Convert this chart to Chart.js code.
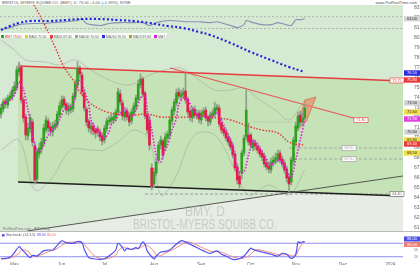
<!DOCTYPE html>
<html><head><meta charset="utf-8">
<script src="https://cdn.jsdelivr.net/npm/chart.js@4.4.1/dist/chart.umd.min.js"></script>
<style>
html,body{margin:0;padding:0;background:#fff;}
body{width:420px;height:265px;position:relative;overflow:hidden;font-family:"Liberation Sans",Arial,sans-serif;}
#hdr{position:absolute;left:2px;top:0;font-size:4px;line-height:5px;color:#555;white-space:nowrap;}
#site{position:absolute;right:3px;top:0;font-size:4px;line-height:5px;color:#555;white-space:nowrap;}
#main{position:absolute;left:0;top:5px;}
#stoch{position:absolute;left:0;top:231px;}
#legend{position:absolute;left:0;top:33px;height:5px;width:167px;background:rgba(255,255,255,0.85);font-size:3.3px;line-height:5px;white-space:nowrap;color:#666;z-index:5;overflow:hidden}
#legend span{display:inline-block;margin-right:2.4px}
#legend i{display:inline-block;width:3px;height:3px;margin:0 1px 0 1px;vertical-align:-0.3px}
</style></head>
<body>
<div id="hdr">BRISTOL-MYERS SQUIBB CO. (BMY), D, 73.00 +1.00 (+1.39%), NYSE</div>
<div id="site">www.ProRealTime.com</div>
<canvas id="main" width="420" height="226"></canvas>
<div id="legend">
<span><i style="background:#2fa31f"></i><b style="color:#d33;font-weight:normal">BMY 73.00</b></span><span><i style="background:#e0d020"></i>MA20 72.60</span><span><i style="background:#e83a3a"></i>MA50 69.40</span><span><i style="background:#a0a0a0"></i>MA100 70.60</span><span><i style="background:#2a2ae0"></i>MA200 76.50</span><span><i style="background:#b0a020"></i>MA13 69.80</span><span><i style="background:#e020e0"></i>MA7 71.90</span><span><i style="background:#fff;border:0.3px solid #999"></i>Bollinger 20 2</span>
</div>
<canvas id="stoch" width="420" height="34"></canvas>
<script>
// ---------------- DATA ----------------
const opens = [
72.4,72.9,73.7,73.3,73.9,74.1,74.7,75.0,76.6,77.1,
73.8,72.1,70.2,70.9,71.6,69.2,65.9,68.4,68.9,69.5,
70.8,71.7,71.1,70.6,71.1,71.3,72.3,73.1,73.9,73.4,
72.7,72.8,72.9,74.1,75.3,77.0,76.3,74.5,72.9,71.7,
70.9,71.2,70.8,70.9,70.6,70.2,69.8,70.9,71.6,71.7,
71.8,72.0,72.6,74.4,73.5,72.1,72.7,72.2,71.7,72.5,
73.1,73.9,75.3,75.9,74.5,72.3,71.8,67.0,65.4,66.5,
67.8,69.3,69.7,69.1,70.0,70.3,71.7,72.7,73.5,74.6,
74.1,74.3,74.7,73.9,72.7,72.0,72.9,72.2,72.5,71.8,
72.4,72.8,72.1,71.6,72.2,72.4,72.8,73.0,71.5,70.9,
70.6,70.1,69.7,69.2,68.4,67.1,66.2,66.5,68.5,70.1,
70.3,70.3,69.0,69.5,69.2,68.9,68.5,68.2,67.5,67.2,
66.8,67.5,67.7,67.9,68.5,67.9,67.5,66.9,66.1,65.6,
67.7,69.6,71.0,72.3,71.6,72.0];
const closes = [
73.0,73.6,73.4,74.0,74.2,74.8,75.2,76.8,77.0,73.8,
72.0,70.3,71.0,72.0,69.6,65.8,68.6,69.0,69.6,71.0,
71.8,71.0,70.7,71.2,71.4,72.4,73.2,73.8,73.3,72.8,
73.2,73.0,74.2,75.4,77.0,76.4,74.6,73.0,71.6,71.0,
71.2,70.7,70.5,70.6,70.1,69.7,71.0,71.7,71.8,72.0,
72.1,72.6,74.6,73.6,72.2,72.6,72.1,71.6,72.6,73.2,
74.0,75.4,75.9,74.4,72.2,70.8,69.3,65.2,66.6,67.6,
69.3,69.8,68.3,70.1,70.4,71.8,72.8,73.6,74.5,74.2,
74.4,74.6,73.8,72.6,72.1,72.8,72.3,72.4,71.9,72.5,
72.7,72.0,71.7,72.3,72.5,73.0,73.1,71.4,70.8,70.5,
70.0,69.6,69.1,68.3,67.0,65.8,65.4,68.5,70.0,72.8,
69.6,69.3,69.6,69.2,68.8,68.4,68.1,67.4,67.1,66.9,
67.6,67.8,68.0,68.4,67.8,67.4,66.8,66.0,65.4,67.8,
69.8,71.2,72.2,71.6,72.0,73.0];
const highs = [
73.3,73.9,74.0,74.3,74.6,75.1,75.6,77.2,77.6,77.3,
74.1,72.4,71.5,72.4,71.9,69.5,68.9,69.5,70.0,71.4,
72.2,72.0,71.5,71.6,71.8,72.7,73.6,74.2,74.2,73.6,
73.5,73.4,74.5,75.8,77.6,77.2,76.6,74.8,73.1,71.9,
71.6,71.5,71.0,71.2,70.9,70.5,71.3,72.0,72.2,72.4,
72.5,72.9,75.0,74.8,73.8,72.9,73.0,72.5,72.9,73.5,
74.3,75.8,76.4,76.1,74.7,72.5,72.2,67.4,67.0,68.0,
69.6,70.2,69.9,70.5,70.7,72.1,73.1,73.9,74.9,75.0,
74.8,75.0,76.5,74.1,73.0,73.1,73.2,72.8,72.8,72.8,
73.0,73.1,72.3,72.6,72.8,73.6,73.4,73.3,71.9,71.2,
70.9,70.4,70.0,69.5,68.7,67.4,66.6,68.8,70.3,74.8,
71.5,70.5,69.9,69.8,69.5,69.2,68.8,68.5,67.8,67.5,
68.0,68.2,68.5,68.8,68.8,68.2,67.8,67.2,66.4,68.1,
70.1,71.6,72.6,72.7,72.5,73.4];
const lows = [
72.0,72.6,73.0,73.0,73.7,73.8,74.4,74.8,76.2,73.5,
71.6,69.8,69.8,70.5,69.2,65.4,65.6,68.0,68.5,69.2,
70.5,70.6,70.2,70.2,70.8,71.0,72.0,72.8,73.0,72.4,
72.3,72.5,72.6,73.8,75.0,76.0,74.3,72.7,71.2,70.6,
70.4,70.3,70.0,70.2,69.7,69.3,69.5,70.6,71.3,71.4,
71.5,71.7,72.3,73.3,71.8,71.7,71.8,71.2,71.4,72.2,
72.8,73.6,75.0,74.1,71.9,70.4,68.8,64.8,65.0,66.2,
67.5,68.9,67.9,68.7,69.6,70.0,71.3,72.3,73.2,73.9,
73.8,74.0,73.5,72.3,71.7,71.6,72.0,71.9,71.5,71.4,
72.1,71.7,71.2,71.3,71.9,72.1,72.5,71.1,70.5,70.2,
69.7,69.3,68.8,68.0,66.7,65.4,65.0,65.9,68.2,69.8,
69.3,69.0,68.7,68.8,68.5,68.1,67.7,67.1,66.8,66.5,
66.5,67.2,67.4,67.6,67.5,67.1,66.5,65.6,64.6,65.3,
67.3,69.2,70.7,71.2,71.3,71.8];

// moving averages / overlays (trading-day index, price)
const ma200Days = [0,4,8,13,22,29,36,44,52,59,66,74,81,88,93,102,111,120,128,135];
const ma200Vals = [80.8,81.2,81.5,81.7,81.7,81.8,81.9,81.9,81.8,81.7,81.5,81.2,81.0,80.6,80.3,79.5,78.6,77.8,77.1,76.6];
const ma50Days = [14,19,24,28,32,35,39,43,47,52,59,65,71,76,83,88,93,102,111,116,123,128,133,135];
const ma50Vals = [83.6,81.5,79.1,77.1,75.8,74.6,73.6,73.0,72.6,72.4,72.3,72.4,72.1,72.1,72.1,72.3,72.1,71.8,71.1,70.8,70.5,69.6,69.3,69.4];
const ma7Days = [0,4,6,8,10,12,14,16,17,19,21,23,24,26,28,30,32,33,35,37,39,40,42,44,46,48,49,51,53,55,56,58,60,62,64,65,67,69,71,72,74,76,78,79,81,83,85,87,88,90,92,94,96,97,99,101,103,104,106,108,110,112,113,115,117,119,120,122,124,126,128,129,131,133,135];
const ma7Vals = [73.3,73.8,74.3,75.6,74.8,72.8,70.3,68.8,68.6,69.3,70.3,70.8,71.0,71.8,72.8,73.0,73.3,74.3,75.8,74.8,73.3,71.8,71.0,70.4,70.0,70.6,71.3,71.8,72.6,73.0,72.6,72.1,72.8,74.0,74.3,72.8,70.8,68.3,67.6,68.3,69.3,70.8,72.0,73.3,74.0,73.8,73.0,72.3,72.1,72.2,72.1,72.2,72.5,72.1,71.3,70.3,69.3,68.0,66.6,66.6,68.3,69.8,69.6,69.0,68.3,67.5,67.3,67.6,67.8,67.3,66.3,66.0,67.8,69.8,71.8];
const bbUpDays = [0,6,11,20,26,33,40,48,57,66,73,80,88,95,102,108,115,122,128,135];
const bbUpVals = [79.8,78.8,77.8,77.6,77.3,77.8,76.8,75.8,75.3,76.3,76.8,77.0,75.8,74.8,74.8,75.0,73.8,72.8,71.8,73.8];
const bbLoDays = [0,8,15,22,31,40,46,53,59,66,71,77,86,95,104,110,119,128,135];
const bbLoVals = [68.8,69.8,64.8,65.8,68.8,68.8,68.8,69.8,70.8,69.8,64.3,65.8,70.3,70.3,66.8,64.3,65.3,64.3,66.8];
const rsDays = [0,4,8,14,19,23,29,34,36,38,44,48,53,59,63,66,69,75,83,88,93,96,99,102,105,108,109,112,116,120,123,125,129,131,133,135];
const rsVals = [27,33,43,47,47,50,53,57,63,47,40,47,50,50,50,40,50,57,53,53,50,53,47,40,33,43,57,50,43,43,50,47,40,60,60,63];
const rsLevels = [70,30];

// drawn trend lines, levels and zones (trading-day index, price)
const topLineDays = [7.56,178.67], topLineVals = [77.2,75.7];
const descLineDays = [75.1,163.1], descLineVals = [77.0,71.6];
const bottomLineDays = [7.56,178.67], bottomLineVals = [65.6,64.2];
const risingLineDays = [11.6,178.67], risingLineVals = [60.7,66.2];
const levelStartDays = [64,128,128], levelVals = [64.4,69.0,67.9];
const dottedLevelDays = [112,130], dottedLevelVal = 71.6;
const pennantDays = [130.7,135.1,140.0,135.6], pennantVals = [70.4,73.8,74.1,71.6];
const channelDays = [7.56,178.67,178.67,7.56], channelVals = [77.2,75.7,64.2,65.6];
const lowZoneDays = [-0.444,-0.444,130,178.67,178.67], lowZoneVals = [60.7,60.3,64.6,64.2,60.7];

// tags
const axisTagVals = [76.5,75.8,73.5,72.6,71.9,70.6,69.8,69.4,68.5];
const lineTagDays = [176,160,154.7,154.7,176], lineTagVals = [75.75,71.8,69.0,67.9,64.4];

// stochastic
const stochDays = [0,3,5,8,9,12,13,14,16,17,19,21,23,25,27,29,32,34,36,37,39,41,44,46,48,51,52,54,55,56,58,60,61,63,64,65,68,69,71,73,75,77,80,82,84,87,90,93,96,98,100,103,106,108,111,112,114,116,120,123,125,127,129,131,132,133,134,135];
const stochK = [11,14,26,65,56,23,16,26,23,31,46,50,50,71,91,83,80,88,83,53,16,11,8,11,23,50,80,61,46,58,53,61,56,86,76,46,11,23,41,44,50,68,91,86,76,61,46,35,46,31,23,8,11,23,58,53,46,41,31,23,35,31,13,31,86,83,86,88];
const stochD = [10,12,17,35,50,45,32,22,22,26,33,43,48,57,70,82,85,84,85,75,52,28,12,10,14,27,45,62,62,55,52,56,57,66,74,70,45,27,25,36,45,55,72,85,85,72,58,45,42,40,32,20,12,14,30,42,52,48,38,30,28,30,25,25,45,65,80,86];
const stochLevels = [80,20];

// axis ticks
const priceTicks = [61,62,63,64,65,66,67,68,69,70,71,72,73,74,75,76,77,78,79,80,81,82,83];
const stochTicks = [20,50,80];
const monthDays = [6,27,46,68,89,111,131,152,173];
const monthLabels = ["May","Jun","Jul","Aug","Sep","Oct","Nov","Dec","2024"];

// ---------------- STYLE / BUILD ----------------
const GREEN='#2fa31f', RED='#e5194b';
const xMin=-0.444, xMax=178.67;
const pts=(xs,ys)=>xs.map((x,k)=>({x:x,y:Array.isArray(ys)?ys[k]:ys}));
const line=(data,color,width,dash,order,extra)=>Object.assign({type:'line',data,borderColor:color,borderWidth:width,borderDash:dash||[],pointRadius:0,fill:false,order},extra||{});

const axisTagColors = ['#2a2ae0','#e83a3a','#d4d4d4','#eee04a','#e040e0','#d4d4d4','#eee04a','#e83a3a','#eee04a'];
const axisTagText = ['#fff','#fff','#333','#333','#fff','#333','#333','#fff','#333'];
const lineTagColors = ['#e83a3a','#e83a3a','#999','#999','#666'];

const mainDecor = {
  id:'mainDecor',
  beforeDraw(chart){
    const {ctx, chartArea:a}=chart;
    ctx.save(); ctx.fillStyle='#d6e9d2'; ctx.fillRect(a.left,a.top,a.right-a.left,a.bottom-a.top); ctx.restore();
  },
  afterDatasetsDraw(chart){
    const {ctx, chartArea:a, scales}=chart;
    const xs=scales.x, ys=scales.y;
    ctx.save();
    ctx.fillStyle='rgba(150,162,150,0.42)';
    ctx.textAlign='center'; ctx.textBaseline='alphabetic';
    ctx.font='14px "Liberation Sans", Arial';
    let w=ctx.measureText('BMY, D').width;
    ctx.save(); ctx.translate(205,211); ctx.scale(40/w,1); ctx.fillText('BMY, D',0,0); ctx.restore();
    w=ctx.measureText('BRISTOL-MYERS SQUIBB CO.').width;
    ctx.save(); ctx.translate(205,223.5); ctx.scale(144/w,1); ctx.fillText('BRISTOL-MYERS SQUIBB CO.',0,0); ctx.restore();
    ctx.textAlign='left'; ctx.font='3.5px "Liberation Sans", Arial'; ctx.fillStyle='#777';
    ctx.fillText('ProRealTime.com - BMY Daily',3,225);
    ctx.font='3.6px "Liberation Sans", Arial'; ctx.textAlign='center'; ctx.textBaseline='middle';
    lineTagDays.forEach((d,k)=>{
      const px=xs.getPixelForValue(d), py=ys.getPixelForValue(lineTagVals[k]);
      ctx.fillStyle='#fff'; ctx.fillRect(px-7,py-2.5,14,5);
      ctx.strokeStyle=lineTagColors[k]; ctx.lineWidth=0.6; ctx.strokeRect(px-7,py-2.5,14,5);
      ctx.fillStyle=lineTagColors[k]; ctx.fillText(lineTagVals[k].toFixed(2),px,py+0.2);
    });
    ctx.font='4px "Liberation Sans", Arial';
    axisTagVals.forEach((v,k)=>{
      const py=ys.getPixelForValue(v);
      ctx.fillStyle=axisTagColors[k]; ctx.fillRect(a.right+1,py-2.7,16,5.4);
      ctx.fillStyle=axisTagText[k]; ctx.fillText(v.toFixed(2),a.right+9,py+0.2);
    });
    const rsy=chart.scales.yRS.getPixelForValue(rsVals[rsVals.length-1]);
    ctx.fillStyle='#d4d4d4'; ctx.fillRect(a.right+1,rsy-2.7,16,5.4);
    ctx.fillStyle='#333'; ctx.fillText(rsVals[rsVals.length-1].toFixed(2),a.right+9,rsy+0.2);
    ctx.restore();
  }
};

const candleColors = closes.map((c,i)=> c>=opens[i]?GREEN:RED);

new Chart(document.getElementById('main'),{
  type:'bar',
  data:{datasets:[
    {type:'line',data:pts(lowZoneDays,lowZoneVals),fill:'shape',backgroundColor:'#e7ede5',borderWidth:0,pointRadius:0,order:100},
    {type:'line',data:pts(channelDays,channelVals),fill:'shape',backgroundColor:'#c6e3b7',borderWidth:0,pointRadius:0,order:99},
    line(pts([xMin,xMax],rsLevels[0]),'#a3aba3',0.8,[2,2],60,{yAxisID:'yRS'}),
    line(pts([xMin,xMax],rsLevels[1]),'#a3aba3',0.8,[2,2],60,{yAxisID:'yRS'}),
    line(pts(rsDays,rsVals),'#8890b4',1.1,[],55,{yAxisID:'yRS',tension:0.2}),
    line(pts(bbUpDays,bbUpVals),'rgba(150,160,150,0.7)',0.7,[],50,{tension:0.35}),
    line(pts(bbLoDays,bbLoVals),'rgba(150,160,150,0.7)',0.7,[],50,{tension:0.35}),
    line(pts([levelStartDays[0],xMax],levelVals[0]),'#888',0.8,[3,2],45),
    line(pts([levelStartDays[1],xMax],levelVals[1]),'#999',0.8,[3,2],45),
    line(pts([levelStartDays[2],xMax],levelVals[2]),'#999',0.8,[3,2],45),
    line(pts(dottedLevelDays,dottedLevelVal),'#9a9a9a',0.7,[1,1.5],45),
    line(pts(risingLineDays,risingLineVals),'#555',1,[],40),
    line(pts(bottomLineDays,bottomLineVals),'#1e1e1e',1.4,[],40),
    line(pts(topLineDays,topLineVals),'#e63a3e',1.4,[],40),
    line(pts(descLineDays,descLineVals),'#e85555',1.1,[],40),
    {type:'line',data:pts(pennantDays,pennantVals),fill:'shape',backgroundColor:'rgba(236,125,95,0.6)',borderColor:'#e0704f',borderWidth:0.8,pointRadius:0,order:35},
    line(pts(ma200Days,ma200Vals),'#1c1ce8',2.1,[2,2.3],20,{tension:0.4}),
    {type:'bar',data:closes.map((c,i)=>({x:i,y:[lows[i],highs[i]]})),backgroundColor:'#8e9e8a',barThickness:1,grouped:false,order:6},
    {type:'bar',data:closes.map((c,i)=>({x:i,y:[opens[i],c]})),backgroundColor:candleColors,barThickness:2,grouped:false,order:5},
    line(pts(ma50Days,ma50Vals),'#e83030',1.4,[1.5,1.6],3,{tension:0.4}),
    line(pts(ma7Days,ma7Vals),'#e01ee0',1.7,[1.5,1.6],2,{tension:0.3})
  ]},
  options:{
    responsive:false, animation:false, events:[],
    layout:{padding:0},
    plugins:{legend:{display:false},tooltip:{enabled:false}},
    scales:{
      x:{type:'linear',min:xMin,max:xMax,display:false,offset:false},
      y:{position:'right',min:60.7,max:83.3,grid:{display:false},border:{display:false},
         ticks:{font:{size:5,family:'"Liberation Sans", Arial'},color:'#666',padding:3,callback:v=>v.toFixed(1)},
         afterBuildTicks:s=>{s.ticks=priceTicks.map(v=>({value:v}));},
         afterFit:s=>{s.width=17;s.paddingTop=0;s.paddingBottom=0;}},
      yRS:{display:false,min:-660,max:110}
    }
  },
  plugins:[mainDecor]
});

const stochDecor = {
  id:'stochDecor',
  beforeDraw(chart){
    const {ctx}=chart;
    ctx.save(); ctx.strokeStyle='#bbb'; ctx.lineWidth=1; ctx.beginPath(); ctx.moveTo(0,0.5); ctx.lineTo(420,0.5); ctx.stroke(); ctx.restore();
  },
  afterDraw(chart){
    const {ctx, chartArea:a, scales}=chart;
    ctx.save();
    ctx.font='3.5px "Liberation Sans", Arial'; ctx.textBaseline='middle'; ctx.textAlign='left';
    ctx.fillStyle='#5555ee'; ctx.fillRect(2,3,2.5,2.5);
    ctx.fillStyle='#555'; ctx.fillText('Stochastic (14,3,5)',6,4.4);
    ctx.fillStyle='#5555ee'; ctx.fillText(stochK[stochK.length-1].toFixed(2),37,4.4);
    ctx.fillStyle='#e8706a'; ctx.fillText(stochD[stochD.length-1].toFixed(2),47,4.4);
    ctx.textAlign='center'; ctx.font='3.8px "Liberation Sans", Arial';
    const kv=stochK[stochK.length-1], dv=stochD[stochD.length-1];
    const ky=scales.y.getPixelForValue(kv)-2.5, dy=scales.y.getPixelForValue(dv)+2.5;
    ctx.fillStyle='#4a4ae8'; ctx.fillRect(a.right+1,ky-2.5,16,5); ctx.fillStyle='#fff'; ctx.fillText(kv.toFixed(2),a.right+9,ky+0.2);
    ctx.fillStyle='#ee7c74'; ctx.fillRect(a.right+1,dy-2.5,16,5); ctx.fillStyle='#fff'; ctx.fillText(dv.toFixed(2),a.right+9,dy+0.2);
    ctx.restore();
  }
};

new Chart(document.getElementById('stoch'),{
  type:'line',
  data:{datasets:[
    line(pts([xMin,xMax],stochLevels[0]),'#8f8ff2',1,[],5),
    line(pts([xMin,xMax],stochLevels[1]),'#8f8ff2',1,[],5),
    line(pts(stochDays,stochD),'#f08a80',1,[],3,{tension:0.35}),
    line(pts(stochDays,stochK),'#5252ee',1.2,[],2,{tension:0.35})
  ]},
  options:{
    responsive:false, animation:false, events:[],
    layout:{padding:{top:7.8,left:0,right:0,bottom:0}},
    plugins:{legend:{display:false},tooltip:{enabled:false}},
    scales:{
      x:{type:'linear',min:xMin,max:xMax,grid:{display:false,drawTicks:false},border:{display:false},
         ticks:{font:{size:4.5,family:'"Liberation Sans", Arial'},color:'#666',padding:0.5,maxRotation:0,autoSkip:false,
                callback:(v,i)=>monthLabels[i]},
         afterBuildTicks:s=>{s.ticks=monthDays.map(v=>({value:v}));},
         afterFit:s=>{s.height=3.8;s.paddingLeft=0;s.paddingRight=0;}},
      y:{position:'right',min:0,max:100,grid:{display:false},border:{display:false},
         ticks:{font:{size:3.5,family:'"Liberation Sans", Arial'},color:'#777',padding:3},
         afterBuildTicks:s=>{s.ticks=stochTicks.map(v=>({value:v}));},
         afterFit:s=>{s.width=17;s.paddingTop=0;s.paddingBottom=0;}}
    }
  },
  plugins:[stochDecor]
});
</script>
</body></html>
